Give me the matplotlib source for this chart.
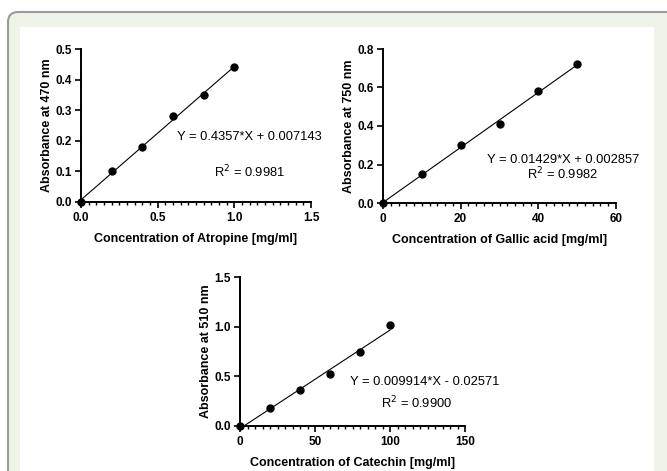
import numpy as np
import matplotlib.pyplot as plt
from matplotlib.patches import PathPatch, Rectangle
from matplotlib.path import Path
from matplotlib.ticker import AutoMinorLocator, MultipleLocator

plt.rcParams['font.family'] = ['Liberation Sans', 'DejaVu Sans']

# data
atr_x = [0, 0.2, 0.4, 0.6, 0.8, 1.0]
atr_y = [0, 0.10, 0.18, 0.28, 0.35, 0.44]
gal_x = [0, 10, 20, 30, 40, 50]
gal_y = [0, 0.15, 0.30, 0.41, 0.58, 0.72]
cat_x = [0, 20, 40, 60, 80, 100]
cat_y = [0, 0.18, 0.36, 0.52, 0.74, 1.02]

W, H = 667, 471
fig = plt.figure(figsize=(W / 100, H / 100), dpi=100)
fig.patch.set_facecolor('white')

# page frame: green band, grey border on left/top with rounded corner
r = 10
fx = lambda x: x / W
fy = lambda y: 1 - y / H
band = Path([(fx(8), fy(H + 5)), (fx(8), fy(12 + r)), (fx(8), fy(12)),
             (fx(8 + r), fy(12)), (fx(W + 5), fy(12)), (fx(W + 5), fy(H + 5)),
             (fx(8), fy(H + 5))],
            [Path.MOVETO, Path.LINETO, Path.CURVE3, Path.CURVE3, Path.LINETO,
             Path.LINETO, Path.CLOSEPOLY])
fig.patches.append(PathPatch(band, transform=fig.transFigure, facecolor='#eef4e7',
                             edgecolor='none', zorder=-3))
border = Path([(fx(8), fy(H + 5)), (fx(8), fy(12 + r)), (fx(8), fy(12)),
               (fx(8 + r), fy(12)), (fx(W + 5), fy(12))],
              [Path.MOVETO, Path.LINETO, Path.CURVE3, Path.CURVE3, Path.LINETO])
fig.patches.append(PathPatch(border, transform=fig.transFigure, facecolor='none',
                             edgecolor='#9a9a9a', linewidth=1.5, zorder=-2))
fig.patches.append(Rectangle((fx(20), 0), (654 - 20) / W, 1 - 27 / H,
                             transform=fig.transFigure, facecolor='white',
                             edgecolor='none', zorder=-2))


def px_axes(x0, x1, y0, y1):
    return fig.add_axes([x0 / W, 1 - y1 / H, (x1 - x0) / W, (y1 - y0) / H])


def style(ax, xmax, xmaj, ymax, ymaj, xlab, ylab, xfmt, yfmt):
    ax.set_facecolor('none')
    ax.set_xlim(0, xmax)
    ax.set_ylim(0, ymax)
    ax.xaxis.set_major_locator(MultipleLocator(xmaj))
    ax.xaxis.set_minor_locator(AutoMinorLocator(10))
    ax.yaxis.set_major_locator(MultipleLocator(ymaj))
    ax.xaxis.set_major_formatter(xfmt)
    ax.yaxis.set_major_formatter(yfmt)
    for s in ['top', 'right']:
        ax.spines[s].set_visible(False)
    for s in ['left', 'bottom']:
        ax.spines[s].set_linewidth(1.4)
    ax.tick_params(which='major', length=4, width=1.2, labelsize=8.5)
    ax.tick_params(axis='x', which='major', pad=3.5)
    ax.tick_params(axis='y', which='major', pad=2.5)
    ax.tick_params(which='minor', length=2.5, width=1.0)
    for lab in ax.get_xticklabels() + ax.get_yticklabels():
        lab.set_fontweight('bold')
    ax.set_xlabel(xlab, fontsize=9, fontweight='bold', labelpad=6)
    ax.set_ylabel(ylab, fontsize=9, fontweight='bold', labelpad=1.5)


def fit_plot(ax, x, y, slope, icpt):
    x0 = max(0, -icpt / slope)
    xs = np.array([x0, max(x)])
    ax.plot(xs, slope * xs + icpt, color='black', lw=0.8, zorder=2)
    ax.plot(x, y, 'o', color='black', ms=5, zorder=3, clip_on=False)


ax1 = px_axes(81, 311, 49, 202)
fit_plot(ax1, atr_x, atr_y, 0.4357, 0.007143)
style(ax1, 1.5, 0.5, 0.5, 0.1, 'Concentration of Atropine [mg/ml]',
      'Absorbance at 470 nm', '{x:.1f}', '{x:.1f}')
ax1.text(0.626, 0.212, 'Y = 0.4357*X + 0.007143', fontsize=9.3, va='center')
ax1.text(1.10, 0.098, 'R$^2$ = 0.9981', fontsize=9.3, va='center', ha='center')

ax2 = px_axes(383, 616, 49, 203)
fit_plot(ax2, gal_x, gal_y, 0.01429, 0.002857)
style(ax2, 60, 20, 0.8, 0.2, 'Concentration of Gallic acid [mg/ml]',
      'Absorbance at 750 nm', '{x:.0f}', '{x:.1f}')
ax2.text(26.8, 0.223, 'Y = 0.01429*X + 0.002857', fontsize=9.3, va='center')
ax2.text(46.3, 0.151, 'R$^2$ = 0.9982', fontsize=9.3, va='center', ha='center')

ax3 = px_axes(240, 465, 277, 426)
fit_plot(ax3, cat_x, cat_y, 0.009914, -0.02571)
style(ax3, 150, 50, 1.5, 0.5, 'Concentration of Catechin [mg/ml]',
      'Absorbance at 510 nm', '{x:.0f}', '{x:.1f}')
ax3.text(73.3, 0.446, 'Y = 0.009914*X - 0.02571', fontsize=9.3, va='center')
ax3.text(117.4, 0.228, 'R$^2$ = 0.9900', fontsize=9.3, va='center', ha='center')

fig.savefig('out.png', dpi=100)
